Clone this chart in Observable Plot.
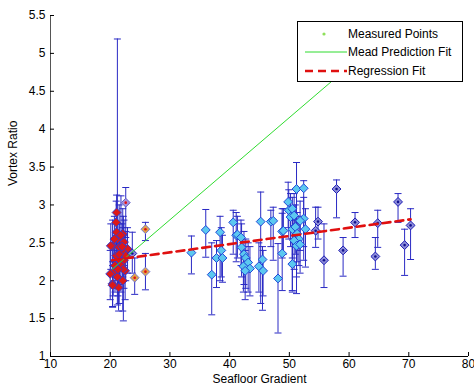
<!DOCTYPE html>
<html><head><meta charset="utf-8">
<script src="https://cdn.jsdelivr.net/npm/d3@7"></script>
<script src="https://cdn.jsdelivr.net/npm/@observablehq/plot@0.6"></script>
<style>
body{margin:0;background:#fff;}
#wrap{position:relative;width:474px;height:392px;font-family:"Liberation Sans",Arial,sans-serif;}
#legend{position:absolute;left:297px;top:21px;}
</style>
</head><body><div id="wrap"></div>
<script>
// ---- data ----
const xs = [21.2,22.6,21.07,21.0,22.1,21.07,20.4,21.5,22.9,22.1,21.6,22.3,20.5,21.8,22.5,21.2,22.1,20.4,21.4,20.7,22.3,21.0,22.6,20.1,20.0,20.4,22.2,21.5,21.8,20.8,21.3,22.0,
  23.7,24.1,25.9,25.9,
  33.6,36.0,37.0,37.8,38.4,38.6,38.8,40.6,41.1,41.3,41.9,42.0,42.4,42.7,43.1,42.3,43.4,42.6,45.2,45.5,44.9,45.6,46.9,47.3,48.1,48.8,48.8,49.0,
  49.8,49.9,50.5,50.2,50.8,50.5,51.0,51.3,51.6,50.8,51.2,51.8,50.5,51.2,52.4,52.4,52.7,51.8,
  54.4,54.8,55.8,57.9,59.0,61.0,64.4,64.8,68.2,69.3,70.3];
const ys = [2.55,3.03,2.90,2.77,2.62,2.64,2.46,2.44,2.42,2.38,2.27,2.27,2.11,2.20,2.13,2.05,2.00,1.96,1.91,2.55,2.51,2.33,2.33,2.46,2.09,1.94,2.15,2.35,2.60,2.20,2.15,2.45,
  2.36,2.04,2.68,2.12,
  2.37,2.67,2.08,2.30,2.64,2.40,2.30,2.77,2.60,2.61,2.57,2.44,2.35,2.30,2.24,2.19,2.16,2.13,2.78,2.28,2.19,2.13,2.78,2.79,2.03,2.36,2.65,2.66,
  3.04,2.93,2.95,2.84,2.86,2.68,2.71,2.62,2.55,2.53,2.46,2.48,2.22,3.21,3.22,2.82,2.68,2.79,
  2.66,2.78,2.27,3.21,2.40,2.77,2.32,2.76,3.04,2.47,2.73];
const lows = [1.90,2.57,2.60,2.45,2.30,2.35,2.10,2.05,2.10,2.05,1.95,1.90,1.80,1.85,1.75,1.68,1.60,1.66,1.60,2.25,2.20,2.00,2.00,2.15,1.75,1.65,1.47,1.70,2.30,1.85,1.80,2.15,
  2.10,1.82,2.53,1.88,
  2.09,2.31,1.55,1.91,2.00,2.05,1.98,2.35,2.25,2.30,2.20,2.05,1.95,1.90,1.85,1.85,1.80,1.75,1.70,1.61,1.85,1.80,2.45,2.27,1.31,1.87,2.30,2.35,
  2.70,2.55,1.87,2.45,2.50,2.30,2.35,2.25,2.20,2.15,2.05,2.10,1.85,1.83,2.27,2.45,2.18,2.40,
  2.44,2.55,1.91,2.83,2.06,2.57,2.15,2.44,2.77,2.07,2.28];
const highs = [5.19,3.23,3.13,3.05,2.95,2.90,2.80,2.75,2.70,2.70,2.60,2.60,2.45,2.50,2.45,2.40,2.35,2.25,2.20,2.85,2.80,2.65,2.65,2.75,2.40,2.20,2.85,3.00,3.12,2.55,2.50,2.75,
  2.64,2.30,2.77,2.36,
  2.59,2.94,2.50,2.53,2.85,2.70,2.60,2.93,2.90,2.85,2.80,2.75,2.65,2.55,2.50,2.45,2.45,2.40,3.17,2.45,2.50,2.40,2.93,2.97,2.49,2.89,2.95,2.95,
  3.30,3.20,3.10,3.15,3.15,2.95,3.00,2.90,2.85,2.80,2.75,2.80,2.55,3.56,3.32,3.10,2.95,3.05,
  2.97,2.97,2.75,3.33,2.57,2.90,2.57,2.93,3.15,2.68,2.95];
// point group codes: r=red, p=pink, t=tan, c=cyan, l=lavender
const groups = ("rp" + "rrrrrrrrrr" + "rrrrrrrrrr" + "rrrrrrrrrr" + "lttt" +
  "cccccccccc" + "cccccccccc" + "cccccccc" + "cccccccccc" + "cccccccc" + "llllllllll" + "l").split("");
const meadX = [20.3, 63.0];
const meadY = [2.15, 5.03];
const regX = [20.3, 70.3];
const regY = [2.27, 2.81];
const xTicks = [10,20,30,40,50,60,70,80];
const yTicks = [1,1.5,2,2.5,3,3.5,4,4.5,5,5.5];
const yTickLabels = ["1","1.5","2","2.5","3","3.5","4","4.5","5","5.5"];
const xLabel = "Seafloor Gradient";
const yLabel = "Vortex Ratio";
const legendItems = ["Measured Points","Mead Prediction Fit","Regression Fit"];

// ---- styling ----
const fillOf = {r:"#dd1818", p:"#a890d8", t:"#e0a24a", c:"#5cc8f0", l:"#8c8cd8"};
const strokeOf = {r:"#3a3ac8", p:"#6060c8", t:"#7a7ad0", c:"#2048d8", l:"#1c1cb4"};
const centerOf = {p:"#e01010", t:"#e01010", l:"#101090"};

const pts = xs.map((x,i)=>({x, y: ys[i], lo: lows[i], hi: highs[i], g: groups[i]}));
const mead = meadX.map((x,i)=>({x, y: meadY[i]}));
const reg = regX.map((x,i)=>({x, y: regY[i]}));

const cap = {draw(ctx, size){ const w = Math.sqrt(size/Math.PI); ctx.moveTo(-w,0); ctx.lineTo(w,0); }};
const barColor = "#2a2ac4";

const chart = Plot.plot({
  width: 474, height: 392,
  marginLeft: 50, marginRight: 6, marginTop: 15, marginBottom: 36,
  x: {domain: [10, 80]},
  y: {domain: [1, 5.5]},
  style: {fontFamily: '"Liberation Sans", Arial, sans-serif', fontSize: "12px", color: "#000", background: "#fff"},
  marks: [
    Plot.ruleX(pts, {x: "x", y1: "lo", y2: "hi", stroke: barColor, strokeWidth: 1}),
    Plot.dot(pts, {x: "x", y: "lo", symbol: cap, r: 3.5, stroke: barColor, strokeWidth: 1}),
    Plot.dot(pts, {x: "x", y: "hi", symbol: cap, r: 3.5, stroke: barColor, strokeWidth: 1}),
    Plot.dot(pts, {x: "x", y: "y", symbol: "diamond2", r: 4, fill: d => fillOf[d.g], stroke: d => strokeOf[d.g], strokeWidth: 1}),
    Plot.dot(pts.filter(d => centerOf[d.g]), {x: "x", y: "y", r: 1.3, fill: d => centerOf[d.g], stroke: null}),
    Plot.line(mead, {x: "x", y: "y", stroke: "#2fdc2f", strokeWidth: 1}),
    Plot.line(reg, {x: "x", y: "y", stroke: "#e01010", strokeWidth: 2.6, strokeDasharray: "8,5"}),
    Plot.ruleY([yTicks[0]], {stroke: "#000"}),
    Plot.ruleX([xTicks[0]], {stroke: "#555"}),
    Plot.axisX({ticks: xTicks, tickSize: 4, dy: -4, tickPadding: 3, tickFormat: d => String(d), label: null}),
    Plot.axisY({ticks: yTicks, tickSize: 4, dx: 4, tickPadding: 5, tickFormat: (d,i) => yTickLabels[yTicks.indexOf(d)], label: null}),
    Plot.text([xLabel], {frameAnchor: "bottom", dy: 26, fill: "#000"}),
    Plot.text([yLabel], {frameAnchor: "left", dx: -37, rotate: -90, fill: "#000"})
  ]
});
const wrap = document.getElementById("wrap");
wrap.appendChild(chart);

// legend box inside the axes
const lg = d3.select(wrap).append("svg").attr("id","legend").attr("width",166).attr("height",61)
  .style("font-family",'"Liberation Sans", Arial, sans-serif').style("font-size","12px");
lg.append("rect").attr("x",0.5).attr("y",0.5).attr("width",165).attr("height",60).attr("fill","#fff").attr("stroke","#000");
const rowsY = [13, 31, 50];
lg.append("circle").attr("cx",27).attr("cy",rowsY[0]).attr("r",1.6).attr("fill","#8ee05a");
lg.append("line").attr("x1",8).attr("x2",50).attr("y1",rowsY[1]).attr("y2",rowsY[1]).attr("stroke","#2fdc2f");
lg.append("line").attr("x1",8).attr("x2",50).attr("y1",rowsY[2]).attr("y2",rowsY[2]).attr("stroke","#e01010").attr("stroke-width",2.6).attr("stroke-dasharray","8,5");
legendItems.forEach((t,i)=>{
  lg.append("text").attr("x",51).attr("y",rowsY[i]).attr("dy","0.35em").text(t);
});
</script>
</body></html>
